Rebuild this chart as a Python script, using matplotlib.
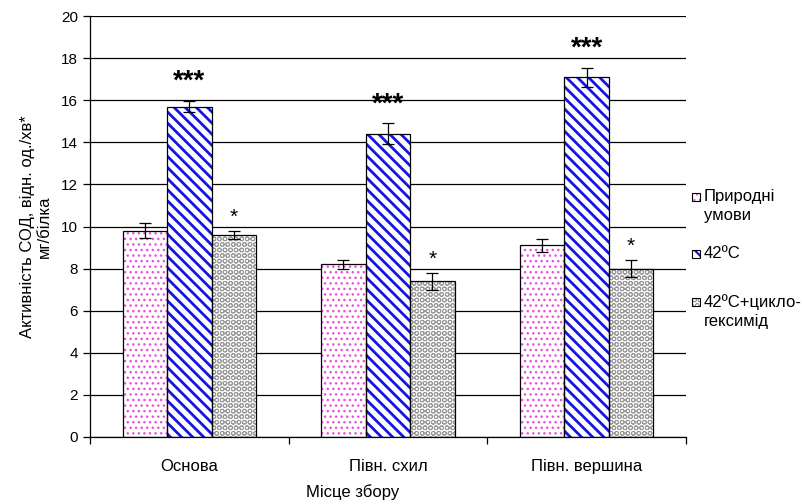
import numpy as np
import matplotlib
matplotlib.use('Agg')
import matplotlib.pyplot as plt
from matplotlib.patches import Rectangle

plt.rcParams['font.family'] = ['Liberation Sans', 'DejaVu Sans']

sites = ['Основа', 'Півн. схил', 'Півн. вершина']
series = ['Природні\nумови', '42ºC', '42ºC+цикло-\nгексимід']
natural = [9.8, 8.2, 9.1]
natural_err = [0.35, 0.2, 0.3]
heat = [15.7, 14.4, 17.1]
heat_err = [0.25, 0.5, 0.45]
heat_cyclo = [9.6, 7.4, 8.0]
heat_cyclo_err = [0.2, 0.4, 0.4]
heat_marks = ['***', '***', '***']
cyclo_marks = ['*', '*', '*']

values = [natural, heat, heat_cyclo]
errors = [natural_err, heat_err, heat_cyclo_err]
hatches = ['...', '\\\\\\', 'OOO']
hatch_colors = ['#ec50dc', '#1414e6', '#9a9a9a']
hatch_widths = [1.0, 2.0, 0.7]

fig = plt.figure(figsize=(8.02, 5.04), dpi=100)
ax = fig.add_axes([0.1122, 0.133, 0.7430, 0.835])

x = np.arange(len(sites)) + 0.5
w = 0.224
for i in range(3):
    pos = x + (i - 1) * w
    with plt.rc_context({'hatch.linewidth': hatch_widths[i]}):
        ax.bar(pos, values[i], w, color='white', edgecolor=hatch_colors[i],
               hatch=hatches[i], linewidth=0, zorder=2)
    ax.bar(pos, values[i], w, color='none', edgecolor='black', linewidth=0.9, zorder=3)
    ax.errorbar(pos, values[i], yerr=errors[i], fmt='none', ecolor='black',
                elinewidth=0.9, capsize=4, capthick=0.9, zorder=4)

for k in range(3):
    ax.text(x[k], heat[k] + heat_err[k] + 0.3, heat_marks[k], ha='center', va='bottom',
            fontsize=20, fontweight='bold')
    ax.text(x[k] + w, heat_cyclo[k] + heat_cyclo_err[k] + 0.2, cyclo_marks[k],
            ha='center', va='bottom', fontsize=15)

ax.set_xlim(0, 3)
ax.set_ylim(0, 20)
ax.set_yticks(np.arange(0, 21, 2))
ax.yaxis.grid(True, color='black', linewidth=0.9)
ax.set_axisbelow(True)
ax.set_xticks([0, 1, 2, 3])
ax.set_xticklabels([])
ax.set_xticks(x, minor=True)
ax.set_xticklabels(sites, minor=True, fontsize=12)
ax.tick_params(axis='x', which='minor', length=0, pad=16)
ax.tick_params(axis='x', which='major', length=5, width=0.9, direction='out')
ax.tick_params(axis='y', length=5, width=0.9, labelsize=11)
for s in ['top', 'right']:
    ax.spines[s].set_visible(False)
for s in ['left', 'bottom']:
    ax.spines[s].set_linewidth(0.9)

ax.set_ylabel('Активність СОД, відн. од./хв*\nмг/білка', fontsize=12,
              linespacing=1.1, labelpad=7, ha='center')
fig.text(353 / 802, 1 - 492 / 504, 'Місце збору', ha='center', va='center', fontsize=12)

# legend drawn by hand so the swatch sits beside the first line of each label
leg_y = [197, 254, 302]
for i, lab in enumerate(series):
    y0 = 1 - leg_y[i] / 504
    with plt.rc_context({'hatch.linewidth': hatch_widths[i] * 0.8}):
        fig.patches.append(Rectangle((692 / 802, y0 - 4 / 504), 8 / 802, 8 / 504,
                                     transform=fig.transFigure, facecolor='white',
                                     edgecolor=hatch_colors[i], hatch=hatches[i],
                                     linewidth=0))
    fig.patches.append(Rectangle((692 / 802, y0 - 4 / 504), 8 / 802, 8 / 504,
                                 transform=fig.transFigure, facecolor='none',
                                 edgecolor='black', linewidth=0.8))
    fig.text(704 / 802, y0 + 8 / 504, lab, ha='left', va='top', fontsize=12,
             linespacing=1.35)

fig.savefig('out.png', dpi=100)
